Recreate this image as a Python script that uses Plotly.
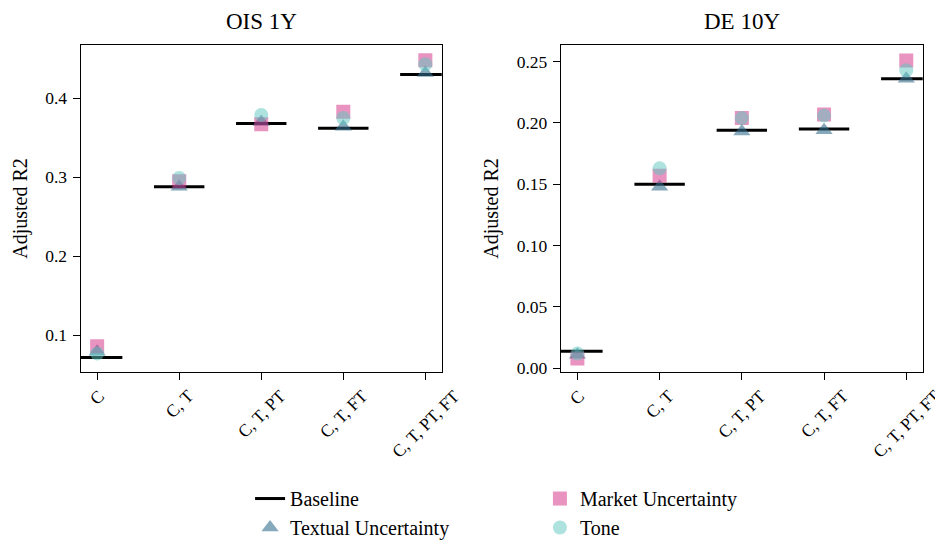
import plotly.graph_objects as go
from plotly.subplots import make_subplots

categories = ["C", "C, T", "C, T, PT", "C, T, FT", "C, T, PT, FT"]

# OIS 1Y
ois_baseline = [0.072, 0.288, 0.368, 0.362, 0.430]
ois_textual = [0.079, 0.288, 0.370, 0.364, 0.432]
ois_market = [0.086, 0.295, 0.367, 0.383, 0.448]
ois_tone = [0.077, 0.299, 0.379, 0.375, 0.443]

# DE 10Y
de_baseline = [0.014, 0.150, 0.194, 0.195, 0.236]
de_textual = [0.011, 0.148, 0.193, 0.194, 0.236]
de_market = [0.008, 0.157, 0.204, 0.207, 0.251]
de_tone = [0.012, 0.163, 0.204, 0.206, 0.243]

panel_titles = ["OIS 1Y", "DE 10Y"]
ois_yticks = [0.1, 0.2, 0.3, 0.4]
ois_yticklabels = ["0.1", "0.2", "0.3", "0.4"]
de_yticks = [0.0, 0.05, 0.10, 0.15, 0.20, 0.25]
de_yticklabels = ["0.00", "0.05", "0.10", "0.15", "0.20", "0.25"]

FONT = "Liberation Serif, Times New Roman, serif"
C_TEXT = "rgba(55,112,143,0.6)"
C_MARKET = "rgba(211,41,129,0.5)"
C_TONE = "rgba(91,197,191,0.5)"

W, H = 935, 532
XDOM = [[0.0778, 0.4639], [0.5914, 0.9783]]
YDOM = [0.3158, 0.9305]

fig = make_subplots(rows=1, cols=2)

panels = [
    (1, ois_baseline, ois_textual, ois_market, ois_tone),
    (2, de_baseline, de_textual, de_market, de_tone),
]
x = list(range(len(categories)))
for col, base, text, mkt, tone in panels:
    show = col == 1
    fig.add_trace(go.Scatter(x=x, y=base, mode="markers", name="Baseline",
                             marker=dict(symbol="line-ew", size=36, color="black",
                                         line=dict(color="black", width=3)),
                             showlegend=False), row=1, col=col)
    fig.add_trace(go.Scatter(x=x, y=text, mode="markers", name="Textual Uncertainty",
                             marker=dict(symbol="triangle-up", size=15, color=C_TEXT,
                                         line=dict(width=0)),
                             showlegend=show, legend="legend", legendrank=2), row=1, col=col)
    fig.add_trace(go.Scatter(x=x, y=mkt, mode="markers", name="Market Uncertainty",
                             marker=dict(symbol="square", size=14, color=C_MARKET,
                                         line=dict(width=0)),
                             showlegend=show, legend="legend2", legendrank=1), row=1, col=col)
    fig.add_trace(go.Scatter(x=x, y=tone, mode="markers", name="Tone",
                             marker=dict(symbol="circle", size=14, color=C_TONE,
                                         line=dict(width=0)),
                             showlegend=show, legend="legend2", legendrank=2), row=1, col=col)

# legend entry for baseline drawn as a line
fig.add_trace(go.Scatter(x=[None], y=[None], mode="lines", name="Baseline",
                         line=dict(color="black", width=3), legend="legend", legendrank=1,
                         showlegend=True), row=1, col=1)

axis_common = dict(showline=True, linecolor="black", linewidth=1.3, mirror=True,
                   ticks="outside", ticklen=7, tickwidth=1.3, tickcolor="black",
                   showgrid=False, zeroline=False, automargin=False,
                   tickfont=dict(family=FONT, size=17.5, color="black"))

fig.update_xaxes(**axis_common, tickmode="array", tickvals=x, showticklabels=False,
                 range=[-0.2, 4.2])
fig.update_xaxes(domain=XDOM[0], row=1, col=1)
fig.update_xaxes(domain=XDOM[1], row=1, col=2)
fig.update_yaxes(**axis_common, domain=YDOM, ticklabelstandoff=2,
                 title=dict(text="Adjusted R2", font=dict(family=FONT, size=20, color="black"),
                            standoff=12))
fig.update_yaxes(range=[0.0535, 0.4675], tickvals=ois_yticks, ticktext=ois_yticklabels,
                 row=1, col=1)
fig.update_yaxes(range=[-0.003, 0.2636], tickvals=de_yticks, ticktext=de_yticklabels,
                 row=1, col=2)

# rotated category labels, centred under each tick
for xref, yref in [("x", "y domain"), ("x2", "y2 domain")]:
    for i, lab in enumerate(categories):
        fig.add_annotation(text=lab, x=i, y=0, xref=xref, yref=yref,
                           xanchor="center", yanchor="top", yshift=-11,
                           textangle=-45, showarrow=False,
                           font=dict(family=FONT, size=17.5, color="black"))

for i, t in enumerate(panel_titles):
    fig.add_annotation(text=t, x=sum(XDOM[i]) / 2, y=1, xref="paper", yref="paper",
                       xanchor="center", yanchor="top", yshift=0, borderpad=0,
                       showarrow=False,
                       font=dict(family=FONT, size=23, color="black"))

legend_common = dict(orientation="v", xanchor="left", yanchor="top",
                     font=dict(family=FONT, size=20, color="black"),
                     traceorder="normal", tracegroupgap=0, itemwidth=30,
                     bgcolor="rgba(0,0,0,0)")

fig.update_layout(
    width=W, height=H,
    margin=dict(l=0, r=0, t=0, b=0, autoexpand=False),
    paper_bgcolor="white", plot_bgcolor="white",
    font=dict(family=FONT, color="black"),
    legend=dict(**legend_common, x=0.2589, y=0.1146),
    legend2=dict(**legend_common, x=0.5689, y=0.1146),
)

fig.write_html("out.html")
